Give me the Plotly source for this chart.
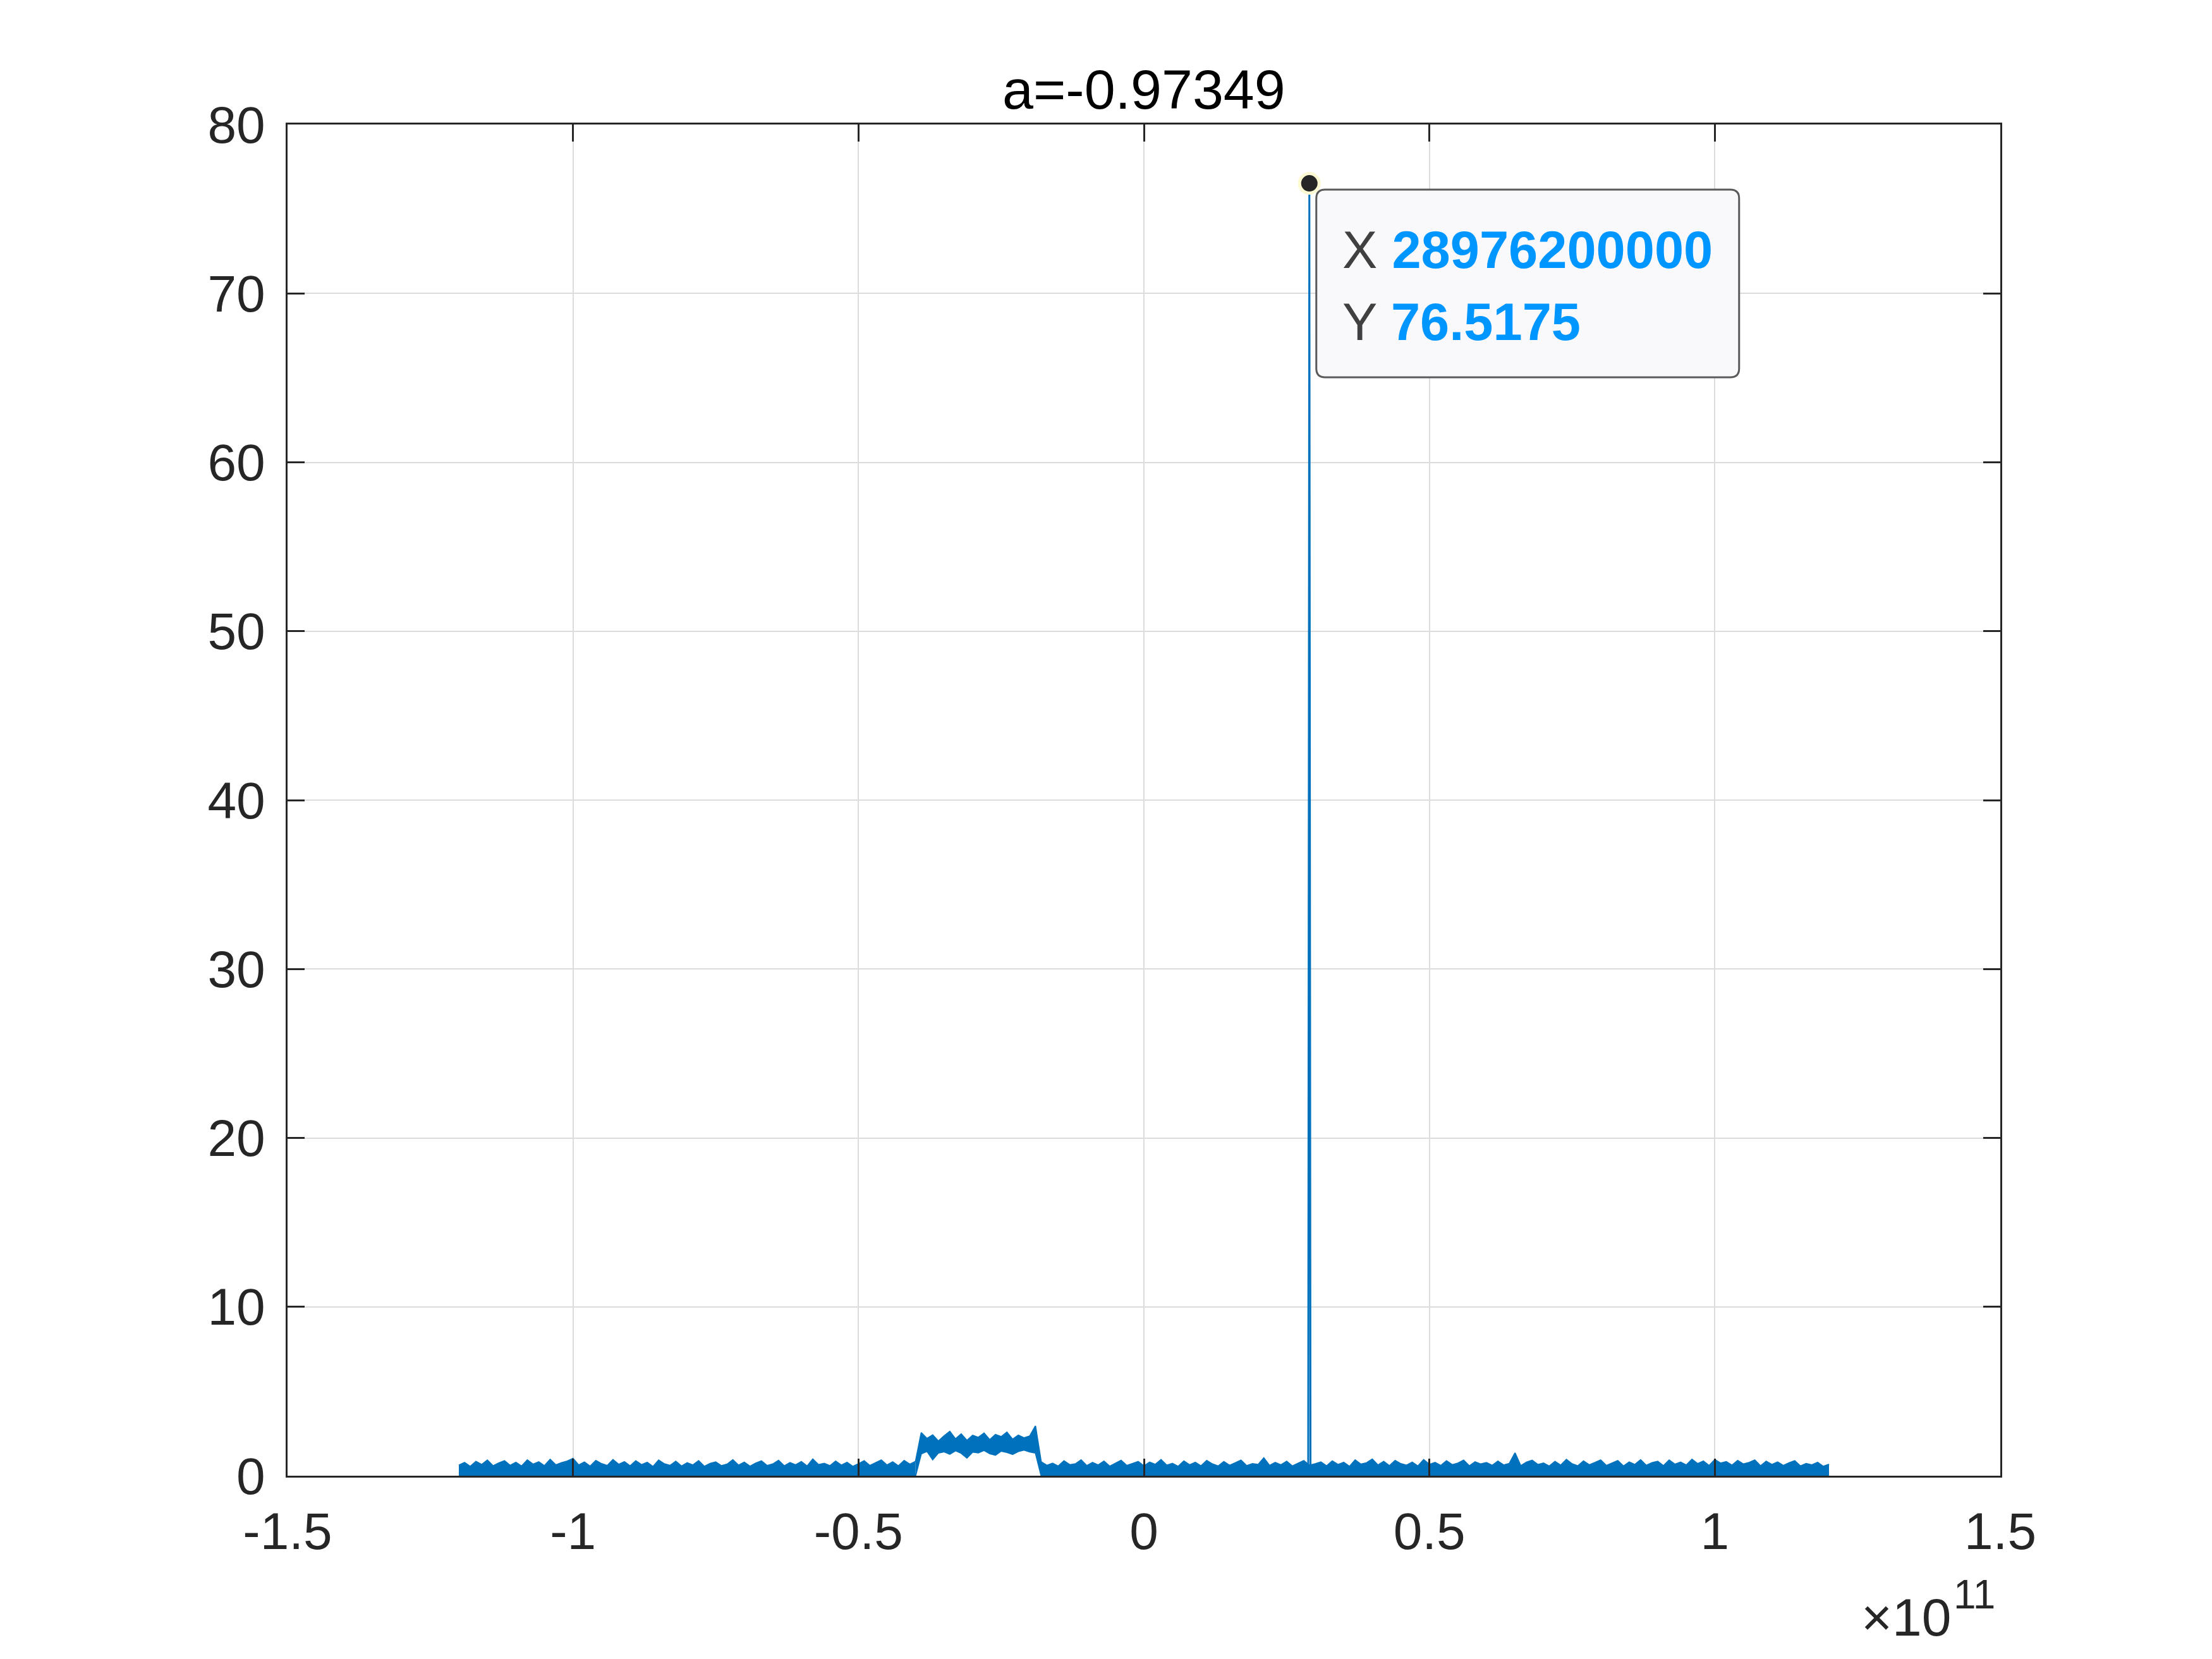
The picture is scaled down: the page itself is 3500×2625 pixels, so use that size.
import plotly.graph_objects as go

# ---------------- data ----------------
title_text = "a=-0.97349"

# noise floor left of the raised block (x in units of 1e11 Hz)
floor_left_x = [round(-1.20 + 0.01 * i, 2) for i in range(81)]
floor_left_up = [
    0.62, 0.78, 0.55, 0.84, 0.66, 0.92, 0.58, 0.75, 0.88, 0.61,
    0.79, 0.57, 0.93, 0.68, 0.82, 0.59, 0.97, 0.64, 0.77, 0.86,
    1.02, 0.63, 0.81, 0.56, 0.90, 0.71, 0.60, 0.95, 0.67, 0.83,
    0.58, 0.88, 0.65, 0.79, 0.54, 0.92, 0.70, 0.61, 0.85, 0.57,
    0.76, 0.63, 0.89, 0.55, 0.72, 0.81, 0.59, 0.68, 0.94, 0.62,
    0.80, 0.56, 0.74, 0.87, 0.60, 0.69, 0.91, 0.58, 0.77, 0.64,
    0.83, 0.57, 0.98, 0.66, 0.73, 0.59, 0.86, 0.62, 0.79, 0.55,
    0.71, 0.88, 0.60, 0.76, 0.93, 0.63, 0.82, 0.58, 0.90, 0.68,
    0.85,
]

# raised block (edges join the noise floor)
block_x = [round(-0.40 + 0.01 * i, 2) for i in range(23)]
block_up = [0.85,
            2.55, 2.20, 2.41, 2.05, 2.36, 2.62, 2.18, 2.47, 2.09, 2.39,
            2.27, 2.52, 2.13, 2.44, 2.31, 2.58, 2.16, 2.40, 2.24, 2.35, 2.95,
            0.82]
block_lo = [0.0,
            1.30, 1.45, 0.95, 1.35, 1.42, 1.28, 1.48, 1.33, 1.05, 1.40,
            1.36, 1.50, 1.31, 1.22, 1.46, 1.38, 1.27, 1.44, 1.52, 1.41, 1.35,
            0.0]

# noise floor right of the block
floor_right_x = [round(-0.18 + 0.01 * i, 2) for i in range(139)]
floor_right_up = [
    0.82, 0.61, 0.74, 0.57, 0.88, 0.65, 0.70, 0.93, 0.59, 0.78,
    0.63, 0.86, 0.56, 0.75, 0.91, 0.60, 0.72, 0.84, 0.58, 0.80,
    0.67, 0.95, 0.62, 0.73, 0.55, 0.87, 0.64, 0.79, 0.58, 0.90,
    0.69, 0.57, 0.83, 0.61, 0.76, 0.92, 0.59, 0.71, 0.66, 1.05,
    0.60, 0.78, 0.64, 0.85, 0.57, 0.74, 0.89, 0.62, 0.70, 0.81,
    0.58, 0.87, 0.66, 0.79, 0.55, 0.93, 0.68, 0.76, 0.98, 0.63,
    0.84, 0.59, 0.90, 0.71, 0.62, 0.80, 0.57, 0.95, 0.67, 0.78,
    0.60, 0.88, 0.65, 0.74, 0.92, 0.58, 0.82, 0.69, 0.77, 0.61,
    0.86, 0.63, 0.72, 1.35, 0.59, 0.80, 0.91, 0.66, 0.75, 0.57,
    0.84, 0.62, 0.96, 0.70, 0.58, 0.87, 0.64, 0.78, 0.93, 0.60,
    0.73, 0.89, 0.57, 0.81, 0.66, 0.94, 0.61, 0.77, 0.85, 0.59,
    0.92, 0.68, 0.80, 0.63, 0.97, 0.71, 0.86, 0.60, 0.95, 0.74,
    0.83, 0.62, 0.90, 0.69, 0.78, 0.93, 0.58, 0.85, 0.66, 0.81,
    0.60, 0.76, 0.88, 0.57, 0.72, 0.64, 0.79, 0.55, 0.68,
]

# the tone
peak_x = 28976200000
peak_y = 76.5175
spike_x = [28976200000 - 2e8, 28976200000, 28976200000 + 2e8]
spike_y = [0.6, 76.5175, 0.6]

x_tickvals = [-1.5e11, -1e11, -0.5e11, 0, 0.5e11, 1e11, 1.5e11]
x_ticktext = ["-1.5", "-1", "-0.5", "0", "0.5", "1", "1.5"]
y_tickvals = [0, 10, 20, 30, 40, 50, 60, 70, 80]
y_ticktext = ["0", "10", "20", "30", "40", "50", "60", "70", "80"]

# ---------------- style ----------------
BLUE = "#0072BD"
AX = "#262626"
GRID = "#dcdcdc"
FONT = "Liberation Sans, Arial, Helvetica, sans-serif"
S = 1e11

fig = go.Figure()

fig.add_trace(go.Scatter(
    x=[v * S for v in floor_left_x], y=floor_left_up, mode="lines",
    line=dict(color=BLUE, width=2), fill="tozeroy", fillcolor=BLUE,
    hoverinfo="skip", showlegend=False))

bx = [v * S for v in block_x]
fig.add_trace(go.Scatter(
    x=bx + bx[::-1], y=block_up + block_lo[::-1], mode="lines",
    line=dict(color=BLUE, width=2), fill="toself", fillcolor=BLUE,
    hoverinfo="skip", showlegend=False))

fig.add_trace(go.Scatter(
    x=[v * S for v in floor_right_x], y=floor_right_up, mode="lines",
    line=dict(color=BLUE, width=2), fill="tozeroy", fillcolor=BLUE,
    hoverinfo="skip", showlegend=False))

fig.add_trace(go.Scatter(
    x=spike_x, y=spike_y, mode="lines",
    line=dict(color=BLUE, width=3), hoverinfo="skip", showlegend=False))

fig.add_trace(go.Scatter(
    x=[peak_x], y=[peak_y], mode="markers",
    marker=dict(size=31, color=AX, line=dict(color="#fdf9d2", width=5)),
    hoverinfo="skip", showlegend=False, cliponaxis=False))

# datatip box (anchored to the peak, pixel offsets)
w, h, r = 669, 297, 14
x0, y0 = 11, -10
path = (f"M {x0 + r},{y0} L {x0 + w - r},{y0} Q {x0 + w},{y0} {x0 + w},{y0 - r} "
        f"L {x0 + w},{y0 - h + r} Q {x0 + w},{y0 - h} {x0 + w - r},{y0 - h} "
        f"L {x0 + r},{y0 - h} Q {x0},{y0 - h} {x0},{y0 - h + r} "
        f"L {x0},{y0 - r} Q {x0},{y0} {x0 + r},{y0} Z")
fig.add_shape(type="path", path=path, xref="x", yref="y",
              xsizemode="pixel", ysizemode="pixel",
              xanchor=peak_x, yanchor=peak_y,
              fillcolor="#f9f9fc", line=dict(color="#5a5a5a", width=3),
              layer="above")

fig.add_annotation(
    x=peak_x, y=peak_y, xref="x", yref="y", xanchor="left", yanchor="middle",
    xshift=50, yshift=-105, showarrow=False,
    text=f"<span style='color:#404040'>X</span> <b>{peak_x}</b>",
    font=dict(family=FONT, size=83, color="#0096ff"))
fig.add_annotation(
    x=peak_x, y=peak_y, xref="x", yref="y", xanchor="left", yanchor="middle",
    xshift=50, yshift=-219, showarrow=False,
    text=f"<span style='color:#404040'>Y</span> <b>{peak_y}</b>",
    font=dict(family=FONT, size=83, color="#0096ff"))

# title
fig.add_annotation(x=0.5, y=1.026, xref="paper", yref="paper",
                   xanchor="center", yanchor="middle", showarrow=False,
                   text=title_text, font=dict(family=FONT, size=88, color="#000000"))

# exponent
fig.add_annotation(x=1.0, y=-0.105, xref="paper", yref="paper",
                   xanchor="right", yanchor="middle", xshift=-75, showarrow=False,
                   text="\u00d710", font=dict(family=FONT, size=84, color=AX))
fig.add_annotation(x=1.0, y=-0.088, xref="paper", yref="paper",
                   xanchor="left", yanchor="middle", xshift=-76, showarrow=False,
                   text="11", font=dict(family=FONT, size=64, color=AX))

axis_common = dict(
    showline=True, linecolor=AX, linewidth=3, mirror="ticks",
    ticks="inside", ticklen=27, tickwidth=3, tickcolor=AX,
    showgrid=True, gridcolor=GRID, gridwidth=2, zeroline=False,
    tickfont=dict(family=FONT, size=82, color=AX),
)

fig.update_xaxes(range=[-1.5e11, 1.5e11], tickmode="array",
                 tickvals=x_tickvals, ticktext=x_ticktext,
                 ticklabelstandoff=15, **axis_common)
fig.update_yaxes(range=[0, 80], tickmode="array",
                 tickvals=y_tickvals, ticktext=y_ticktext,
                 ticklabelstandoff=16, **axis_common)

fig.update_layout(
    width=3500, height=2625,
    margin=dict(l=447, r=343, t=189, b=298, pad=0),
    paper_bgcolor="white", plot_bgcolor="white",
    showlegend=False,
    font=dict(family=FONT, color=AX),
)

fig.write_html("out.html")
